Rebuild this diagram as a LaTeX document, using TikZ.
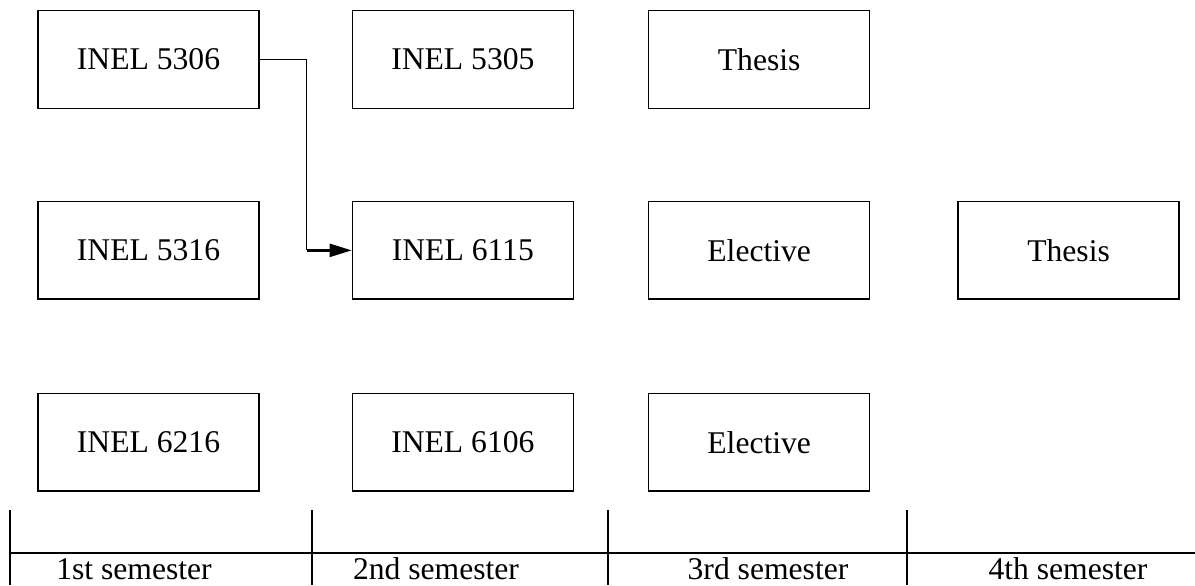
\documentclass[tikz,border=0pt]{standalone}
\usepackage{fontspec}
\setmainfont{Liberation Serif}
\usetikzlibrary{arrows.meta}
\usetikzlibrary{positioning}

\begin{document}
\begin{tikzpicture}[
  x=0.02cm, y=-0.02cm,
  node distance=1.84cm,
  course/.style={rectangle, draw=black, line width=0.8pt,
    minimum width=4.42cm, minimum height=1.95cm,
    align=center, font=\fontsize{18}{21}\selectfont},
  semester/.style={anchor=base, font=\fontsize{18}{21}\selectfont},
  link/.style={draw=black, line width=0.6pt},
  arrow/.style={-{Triangle[length=4.4mm, width=2.6mm]}, line width=1.3pt},
  rule/.style={draw=black, line width=0.6pt},
]
\useasboundingbox (0,0) rectangle (1195,585);

% === 1st semester ===
\node[course] (c5306) at (148.5,59.5) {INEL 5306};
\node[course, below=of c5306] (c5316) {INEL 5316};
\node[course, below=1.86cm of c5316] (c6216) {INEL 6216};

% === 2nd semester ===
\node[course, right=of c5306] (c5305) {INEL 5305};
\node[course, below=of c5305] (c6115) {INEL 6115};
\node[course, below=1.86cm of c6115] (c6106) {INEL 6106};

% === 3rd semester ===
\node[course, right=1.48cm of c5305] (thesisA) {Thesis};
\node[course, below=of thesisA] (electA) {Elective};
\node[course, below=1.86cm of electA] (electB) {Elective};

% === 4th semester ===
\node[course, right=1.74cm of electA] (thesisB) {Thesis};

% Prerequisite
\draw[link] (c5306.east) -- ++(47,0) coordinate (turn)
  -- (turn |- c6115.west) coordinate (foot);
\draw[arrow] (foot) -- (c6115.west);

% === Semester scale ===
\foreach \x in {10,312,608,907}
  \draw[rule] (\x,510) -- (\x,585);
\draw[rule] (10,553) -- (1195,553);

\node[semester] (sem1) at (134,579) {1st semester};
\node[semester] (sem2) at (436,579) {2nd semester};
\node[semester] (sem3) at (768,579) {3rd semester};
\node[semester] (sem4) at (1068,579) {4th semester};

\end{tikzpicture}
\end{document}
